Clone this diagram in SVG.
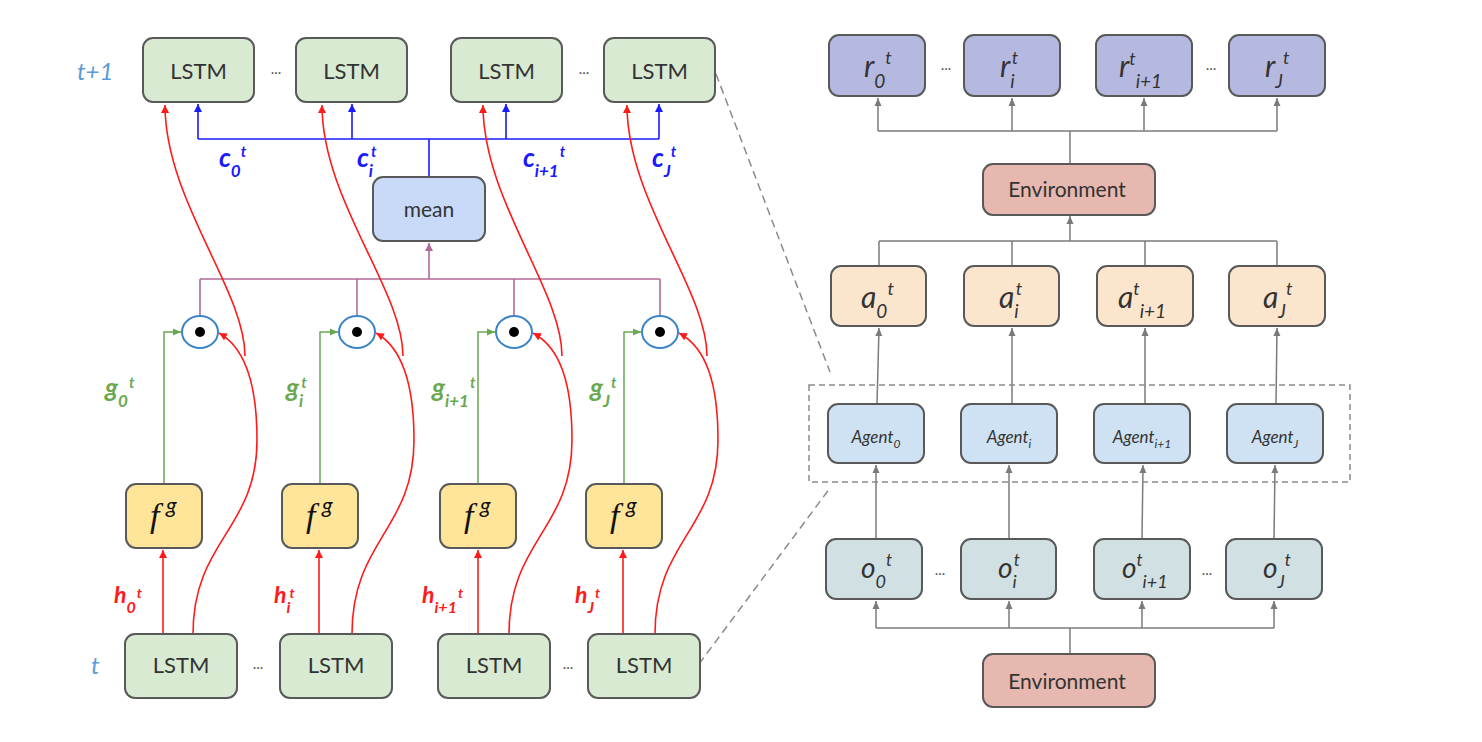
<svg xmlns="http://www.w3.org/2000/svg" width="1482" height="742" viewBox="0 0 1482 742">
<style>
.box{stroke:#595959;stroke-width:2}
.lstm{fill:#d9ead3}
.fg{fill:#ffe599}
.mean{fill:#c9daf8}
.r{fill:#b6b9df}
.a{fill:#fce5cd}
.ag{fill:#cfe2f3}
.o{fill:#d0e0e3}
.env{fill:#e6b8af}
.t{font-family:Lato,"Open Sans",sans-serif;fill:#333}
.it{font-style:italic}
.bi{font-weight:bold;font-style:italic}
.red{stroke:#ff1a1a;stroke-width:1.6;fill:none}
.blue{stroke:#1a1aff;stroke-width:1.6;fill:none}
.grn{stroke:#6aa84f;stroke-width:1.5;fill:none}
.pur{stroke:#b06a95;stroke-width:1.6;fill:none}
.gry{stroke:#7a7a7a;stroke-width:1.5;fill:none}
.dash{stroke:#8a8a8a;stroke-width:1.5;fill:none;stroke-dasharray:8 5}
.dot{font-family:Lato,sans-serif;font-size:15px;fill:#555}
</style>
<defs>
<marker id="aR" markerUnits="userSpaceOnUse" markerWidth="9" markerHeight="8" refX="8" refY="4" orient="auto"><path d="M0,0 L8,4 L0,8 z" fill="#ff1a1a"/></marker>
<marker id="aB" markerUnits="userSpaceOnUse" markerWidth="9" markerHeight="8" refX="8" refY="4" orient="auto"><path d="M0,0 L8,4 L0,8 z" fill="#1a1aff"/></marker>
<marker id="aG" markerUnits="userSpaceOnUse" markerWidth="9" markerHeight="8" refX="8" refY="4" orient="auto"><path d="M0,0.5 L8,4 L0,7.5 z" fill="#6aa84f"/></marker>
<marker id="aP" markerUnits="userSpaceOnUse" markerWidth="9" markerHeight="8" refX="8" refY="4" orient="auto"><path d="M0,0 L8,4 L0,8 z" fill="#b06a95"/></marker>
<marker id="aK" markerUnits="userSpaceOnUse" markerWidth="9" markerHeight="8" refX="8" refY="4" orient="auto"><path d="M0,0.5 L8,4 L0,7.5 z" fill="#7a7a7a"/></marker>
</defs>

<text class="t it" x="77" y="80" font-size="24" style="fill:#5b9bd5">t+1</text>
<text class="t it" x="91" y="674" font-size="24" style="fill:#5b9bd5">t</text>

<g id="connectors">
  <path class="blue" d="M198,139 H659"/>
  <path class="blue" d="M429,177 V139"/>
  <path class="blue" d="M198,139 V104" marker-end="url(#aB)"/>
  <path class="blue" d="M352,139 V104" marker-end="url(#aB)"/>
  <path class="blue" d="M506,139 V104" marker-end="url(#aB)"/>
  <path class="blue" d="M659,139 V104" marker-end="url(#aB)"/>
  <path class="pur" d="M200,279 H660"/>
  <path class="pur" d="M200,279 V316"/>
  <path class="pur" d="M357,279 V316"/>
  <path class="pur" d="M514,279 V316"/>
  <path class="pur" d="M660,279 V316"/>
  <path class="pur" d="M429,279 V243" marker-end="url(#aP)"/>
  <path class="grn" d="M164,484 V332 H181" marker-end="url(#aG)"/>
  <path class="grn" d="M320,484 V332 H338" marker-end="url(#aG)"/>
  <path class="grn" d="M478,484 V332 H495" marker-end="url(#aG)"/>
  <path class="grn" d="M624,484 V332 H641" marker-end="url(#aG)"/>
  <path class="red" d="M163,634 V550" marker-end="url(#aR)"/>
  <path class="red" d="M319,634 V550" marker-end="url(#aR)"/>
  <path class="red" d="M478,634 V550" marker-end="url(#aR)"/>
  <path class="red" d="M623,634 V550" marker-end="url(#aR)"/>
  <path class="red" d="M193,634 C193,540 257,530 257,440 C257,385 246,348 219,333" marker-end="url(#aR)"/>
  <path class="red" d="M352,634 C352,540 414,530 414,440 C414,385 403,348 376,333" marker-end="url(#aR)"/>
  <path class="red" d="M509,634 C509,540 572,530 572,440 C572,385 561,348 533,333" marker-end="url(#aR)"/>
  <path class="red" d="M655,634 C655,540 718,530 718,440 C718,385 707,348 679,333" marker-end="url(#aR)"/>
  <path class="red" d="M245,356 C245,290 165,200 165,105" marker-end="url(#aR)"/>
  <path class="red" d="M403,356 C403,290 322,200 322,105" marker-end="url(#aR)"/>
  <path class="red" d="M562,356 C562,290 483,200 483,105" marker-end="url(#aR)"/>
  <path class="red" d="M707,356 C707,290 627,200 627,105" marker-end="url(#aR)"/>
  <path class="dash" d="M716,74 L830,372"/>
  <path class="dash" d="M699,664 L830,488"/>
  <path class="gry" d="M878,131 H1277"/>
  <path class="gry" d="M1070,164 V131"/>
  <path class="gry" d="M878,131 V98" marker-end="url(#aK)"/>
  <path class="gry" d="M1012,131 V98" marker-end="url(#aK)"/>
  <path class="gry" d="M1144,131 V98" marker-end="url(#aK)"/>
  <path class="gry" d="M1277,131 V98" marker-end="url(#aK)"/>
  <path class="gry" d="M879,241 H1277"/>
  <path class="gry" d="M879,266 V241"/>
  <path class="gry" d="M1012,266 V241"/>
  <path class="gry" d="M1145,266 V241"/>
  <path class="gry" d="M1277,266 V241"/>
  <path class="gry" d="M1070,241 V216" marker-end="url(#aK)"/>
  <path class="gry" d="M877,404 L879,328" marker-end="url(#aK)"/>
  <path class="gry" d="M1012,404 V328" marker-end="url(#aK)"/>
  <path class="gry" d="M1145,404 V328" marker-end="url(#aK)"/>
  <path class="gry" d="M1276,404 L1277,328" marker-end="url(#aK)"/>
  <path class="gry" d="M876,539 V465" marker-end="url(#aK)"/>
  <path class="gry" d="M1009,539 V465" marker-end="url(#aK)"/>
  <path class="gry" d="M1142,539 L1143,465" marker-end="url(#aK)"/>
  <path class="gry" d="M1274,539 L1275,465" marker-end="url(#aK)"/>
  <path class="gry" d="M876,628 H1274"/>
  <path class="gry" d="M1070,654 V628"/>
  <path class="gry" d="M876,628 V601" marker-end="url(#aK)"/>
  <path class="gry" d="M1009,628 V601" marker-end="url(#aK)"/>
  <path class="gry" d="M1142,628 V601" marker-end="url(#aK)"/>
  <path class="gry" d="M1274,628 V601" marker-end="url(#aK)"/>
</g>

<rect id="agent-group" x="809" y="385" width="541" height="97" fill="none" stroke="#8a8a8a" stroke-width="1.5" stroke-dasharray="6 4"/>

<g id="lstm-top-0"><rect class="box lstm" x="143" y="38" width="111" height="64" rx="10"/><text class="t" x="198.5" y="79" font-size="22" text-anchor="middle">LSTM</text></g>
<g id="lstm-top-i"><rect class="box lstm" x="296" y="38" width="111" height="64" rx="10"/><text class="t" x="351.5" y="79" font-size="22" text-anchor="middle">LSTM</text></g>
<g id="lstm-top-i1"><rect class="box lstm" x="451" y="38" width="111" height="64" rx="10"/><text class="t" x="506.5" y="79" font-size="22" text-anchor="middle">LSTM</text></g>
<g id="lstm-top-J"><rect class="box lstm" x="604" y="38" width="111" height="64" rx="10"/><text class="t" x="659.5" y="79" font-size="22" text-anchor="middle">LSTM</text></g>
<text class="dot" x="276" y="74" text-anchor="middle">...</text>
<text class="dot" x="584" y="74" text-anchor="middle">...</text>

<g id="c-labels" class="t bi" style="fill:#1a1aff">
  <text x="219" y="167" font-size="26">c<tspan dy="10" font-size="17">0</tspan><tspan dy="-20" dx="0" font-size="15">t</tspan></text>
  <text x="357" y="167" font-size="26">c<tspan dy="10" font-size="17">i</tspan><tspan dy="-20" dx="-2" font-size="15">t</tspan></text>
  <text x="523" y="167" font-size="26">c<tspan dy="10" font-size="17">i+1</tspan><tspan dy="-20" dx="1" font-size="15">t</tspan></text>
  <text x="652" y="167" font-size="26">c<tspan dy="10" font-size="17">J</tspan><tspan dy="-20" dx="0" font-size="15">t</tspan></text>
</g>

<g id="mean"><rect class="box mean" x="373" y="177" width="112" height="64" rx="10"/><text class="t" x="429" y="217" font-size="21" text-anchor="middle">mean</text></g>

<g id="prod-0"><ellipse cx="200" cy="332" rx="18" ry="16" fill="#fff" stroke="#3d85c6" stroke-width="2"/><circle cx="200" cy="332" r="5" fill="#000"/></g>
<g id="prod-i"><ellipse cx="357" cy="332" rx="18" ry="16" fill="#fff" stroke="#3d85c6" stroke-width="2"/><circle cx="357" cy="332" r="5" fill="#000"/></g>
<g id="prod-i1"><ellipse cx="514" cy="332" rx="18" ry="16" fill="#fff" stroke="#3d85c6" stroke-width="2"/><circle cx="514" cy="332" r="5" fill="#000"/></g>
<g id="prod-J"><ellipse cx="660" cy="332" rx="18" ry="16" fill="#fff" stroke="#3d85c6" stroke-width="2"/><circle cx="660" cy="332" r="5" fill="#000"/></g>

<g id="g-labels" class="t bi" style="fill:#6aa84f">
  <text x="105" y="397" font-size="26">g<tspan dy="10" font-size="17">0</tspan><tspan dy="-19" dx="1" font-size="15">t</tspan></text>
  <text x="286" y="397" font-size="26">g<tspan dy="10" font-size="17">i</tspan><tspan dy="-19" dx="-2" font-size="15">t</tspan></text>
  <text x="432" y="397" font-size="26">g<tspan dy="10" font-size="17">i+1</tspan><tspan dy="-19" dx="1" font-size="15">t</tspan></text>
  <text x="590" y="397" font-size="26">g<tspan dy="10" font-size="17">J</tspan><tspan dy="-19" dx="1" font-size="15">t</tspan></text>
</g>

<g id="fg-0"><rect class="box fg" x="126" y="484" width="76" height="64" rx="10"/><text class="t" style="fill:#111" x="150" y="527"><tspan font-family="'Liberation Serif',serif" font-style="italic" font-size="34">f</tspan><tspan x="166" y="513" font-style="italic" font-size="22">g</tspan></text></g>
<g id="fg-i"><rect class="box fg" x="282" y="484" width="76" height="64" rx="10"/><text class="t" style="fill:#111" x="306" y="527"><tspan font-family="'Liberation Serif',serif" font-style="italic" font-size="34">f</tspan><tspan x="322" y="513" font-style="italic" font-size="22">g</tspan></text></g>
<g id="fg-i1"><rect class="box fg" x="440" y="484" width="76" height="64" rx="10"/><text class="t" style="fill:#111" x="464" y="527"><tspan font-family="'Liberation Serif',serif" font-style="italic" font-size="34">f</tspan><tspan x="480" y="513" font-style="italic" font-size="22">g</tspan></text></g>
<g id="fg-J"><rect class="box fg" x="586" y="484" width="76" height="64" rx="10"/><text class="t" style="fill:#111" x="610" y="527"><tspan font-family="'Liberation Serif',serif" font-style="italic" font-size="34">f</tspan><tspan x="626" y="513" font-style="italic" font-size="22">g</tspan></text></g>

<g id="h-labels" class="t bi" style="fill:#ff1a1a">
  <text x="114" y="603" font-size="23">h<tspan dy="10" font-size="16">0</tspan><tspan dy="-15" dx="1" font-size="14">t</tspan></text>
  <text x="274" y="603" font-size="23">h<tspan dy="10" font-size="16">i</tspan><tspan dy="-15" dx="-1" font-size="14">t</tspan></text>
  <text x="422" y="603" font-size="23">h<tspan dy="10" font-size="16">i+1</tspan><tspan dy="-15" dx="1" font-size="14">t</tspan></text>
  <text x="575" y="603" font-size="23">h<tspan dy="10" font-size="16">J</tspan><tspan dy="-15" dx="1" font-size="14">t</tspan></text>
</g>

<g id="lstm-bot-0"><rect class="box lstm" x="125" y="634" width="112" height="64" rx="10"/><text class="t" x="181" y="673" font-size="22" text-anchor="middle">LSTM</text></g>
<g id="lstm-bot-i"><rect class="box lstm" x="280" y="634" width="112" height="64" rx="10"/><text class="t" x="336" y="673" font-size="22" text-anchor="middle">LSTM</text></g>
<g id="lstm-bot-i1"><rect class="box lstm" x="438" y="634" width="112" height="64" rx="10"/><text class="t" x="494" y="673" font-size="22" text-anchor="middle">LSTM</text></g>
<g id="lstm-bot-J"><rect class="box lstm" x="588" y="634" width="112" height="64" rx="10"/><text class="t" x="644" y="673" font-size="22" text-anchor="middle">LSTM</text></g>
<text class="dot" x="258" y="669" text-anchor="middle">...</text>
<text class="dot" x="568" y="669" text-anchor="middle">...</text>

<g id="r-0"><rect class="box r" x="829" y="35" width="96" height="61" rx="10"/><text class="t it" x="864" y="77" font-size="30">r<tspan dy="11" font-size="19">0</tspan><tspan dy="-24" dx="0" font-size="18">t</tspan></text></g>
<g id="r-i"><rect class="box r" x="964" y="35" width="96" height="61" rx="10"/><text class="t it" x="1000" y="77" font-size="30">r<tspan dy="11" font-size="19">i</tspan><tspan dy="-24" dx="-3" font-size="18">t</tspan></text></g>
<g id="r-i1"><rect class="box r" x="1096" y="35" width="96" height="61" rx="10"/><text class="t it" x="1119" y="77" font-size="30">r<tspan dy="-12" font-size="18">t</tspan><tspan dy="23" font-size="19">i+1</tspan></text></g>
<g id="r-J"><rect class="box r" x="1229" y="35" width="96" height="61" rx="10"/><text class="t it" x="1265" y="77" font-size="30">r<tspan dy="11" font-size="19">J</tspan><tspan dy="-24" dx="0" font-size="18">t</tspan></text></g>
<text class="dot" x="946" y="70" text-anchor="middle">...</text>
<text class="dot" x="1211" y="70" text-anchor="middle">...</text>

<g id="env-top"><rect class="box env" x="983" y="164" width="172" height="51" rx="10"/><text class="t" x="1067" y="197" font-size="21" text-anchor="middle">Environment</text></g>

<g id="a-0"><rect class="box a" x="831" y="266" width="95" height="60" rx="10"/><text class="t it" x="861" y="308" font-size="30">a<tspan dy="10" font-size="19">0</tspan><tspan dy="-23" dx="0" font-size="18">t</tspan></text></g>
<g id="a-i"><rect class="box a" x="964" y="266" width="95" height="60" rx="10"/><text class="t it" x="999" y="308" font-size="30">a<tspan dy="10" font-size="19">i</tspan><tspan dy="-23" dx="-3" font-size="18">t</tspan></text></g>
<g id="a-i1"><rect class="box a" x="1097" y="266" width="96" height="60" rx="10"/><text class="t it" x="1118" y="308" font-size="30">a<tspan dy="-13" font-size="18">t</tspan><tspan dy="23" font-size="19">i+1</tspan></text></g>
<g id="a-J"><rect class="box a" x="1229" y="266" width="96" height="60" rx="10"/><text class="t it" x="1263" y="308" font-size="30">a<tspan dy="10" font-size="19">J</tspan><tspan dy="-23" dx="0" font-size="18">t</tspan></text></g>

<g id="agent-0"><rect class="box ag" x="828" y="404" width="96" height="59" rx="10"/><text class="t it" x="876" y="443" font-size="17" text-anchor="middle">Agent<tspan dy="5" font-size="12">0</tspan></text></g>
<g id="agent-i"><rect class="box ag" x="961" y="404" width="96" height="59" rx="10"/><text class="t it" x="1009" y="443" font-size="17" text-anchor="middle">Agent<tspan dy="5" font-size="12">i</tspan></text></g>
<g id="agent-i1"><rect class="box ag" x="1094" y="404" width="96" height="59" rx="10"/><text class="t it" x="1142" y="443" font-size="17" text-anchor="middle">Agent<tspan dy="5" font-size="12">i+1</tspan></text></g>
<g id="agent-J"><rect class="box ag" x="1227" y="404" width="96" height="59" rx="10"/><text class="t it" x="1275" y="443" font-size="17" text-anchor="middle">Agent<tspan dy="5" font-size="12">J</tspan></text></g>

<g id="o-0"><rect class="box o" x="826" y="539" width="96" height="60" rx="10"/><text class="t it" x="861" y="578" font-size="28">o<tspan dy="10" font-size="18">0</tspan><tspan dy="-22" dx="0" font-size="17">t</tspan></text></g>
<g id="o-i"><rect class="box o" x="961" y="539" width="95" height="60" rx="10"/><text class="t it" x="998" y="578" font-size="28">o<tspan dy="10" font-size="18">i</tspan><tspan dy="-22" dx="-3" font-size="17">t</tspan></text></g>
<g id="o-i1"><rect class="box o" x="1094" y="539" width="96" height="60" rx="10"/><text class="t it" x="1122" y="578" font-size="28">o<tspan dy="-12" font-size="17">t</tspan><tspan dy="22" font-size="18">i+1</tspan></text></g>
<g id="o-J"><rect class="box o" x="1226" y="539" width="96" height="60" rx="10"/><text class="t it" x="1263" y="578" font-size="28">o<tspan dy="10" font-size="18">J</tspan><tspan dy="-22" dx="0" font-size="17">t</tspan></text></g>
<text class="dot" x="940" y="575" text-anchor="middle">...</text>
<text class="dot" x="1207" y="575" text-anchor="middle">...</text>

<g id="env-bot"><rect class="box env" x="983" y="654" width="172" height="53" rx="10"/><text class="t" x="1067" y="689" font-size="21" text-anchor="middle">Environment</text></g>
</svg>
